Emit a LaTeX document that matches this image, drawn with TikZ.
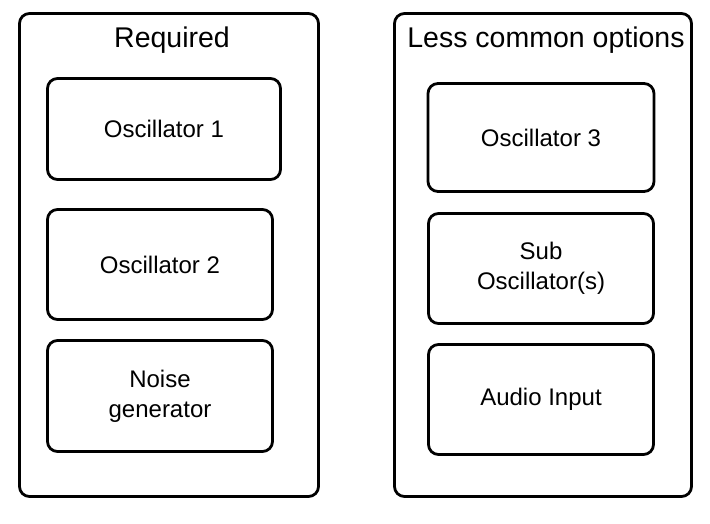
\documentclass[tikz,border=0pt]{standalone}
\usepackage{fontspec}
\setmainfont{Liberation Sans}
\usetikzlibrary{positioning}

\tikzset{
    group/.style = {draw, line width=2.8pt, rounded corners=10pt},
    block/.style = {draw, line width=2.8pt, rounded corners=10pt, align=center,
                    font=\fontsize{24}{30}\selectfont},
    heading/.style = {anchor=base, inner sep=0pt, font=\fontsize{28.5}{34}\selectfont}
}

\begin{document}
\begin{tikzpicture}[x=1pt,y=-1pt]

            % \draw [help lines] (0,0) grid (710,524);
            \useasboundingbox (0,0) rectangle (710,524);

            \path   (169,255) node (req) [group,minimum width=299pt,minimum height=483pt] {}
                    (543,255) node (opt) [group,minimum width=297pt,minimum height=483pt] {};

            \node [heading] (reqtitle) at (172,48) {Required};
            \node [heading] (opttitle) at (546,48) {Less common options};

            \path   (164,129)   node (osca)  [block,minimum width=233pt,minimum height=101pt] {Oscillator 1}
                    (160,264.5) node (oscb)  [block,minimum width=225pt,minimum height=110pt] {Oscillator 2}
                    (160,396)   node (noise) [block,minimum width=225pt,minimum height=111pt] {Noise\\generator};

            \path   (541,137.5) node (oscc)  [block,minimum width=226pt,minimum height=108pt] {Oscillator 3}
                    (541,268.5) node (sub)   [block,minimum width=225pt,minimum height=110pt] {Sub\\Oscillator(s)}
                    (541,399.5) node (audio) [block,minimum width=225pt,minimum height=110pt] {Audio Input};

        \end{tikzpicture}
\end{document}
